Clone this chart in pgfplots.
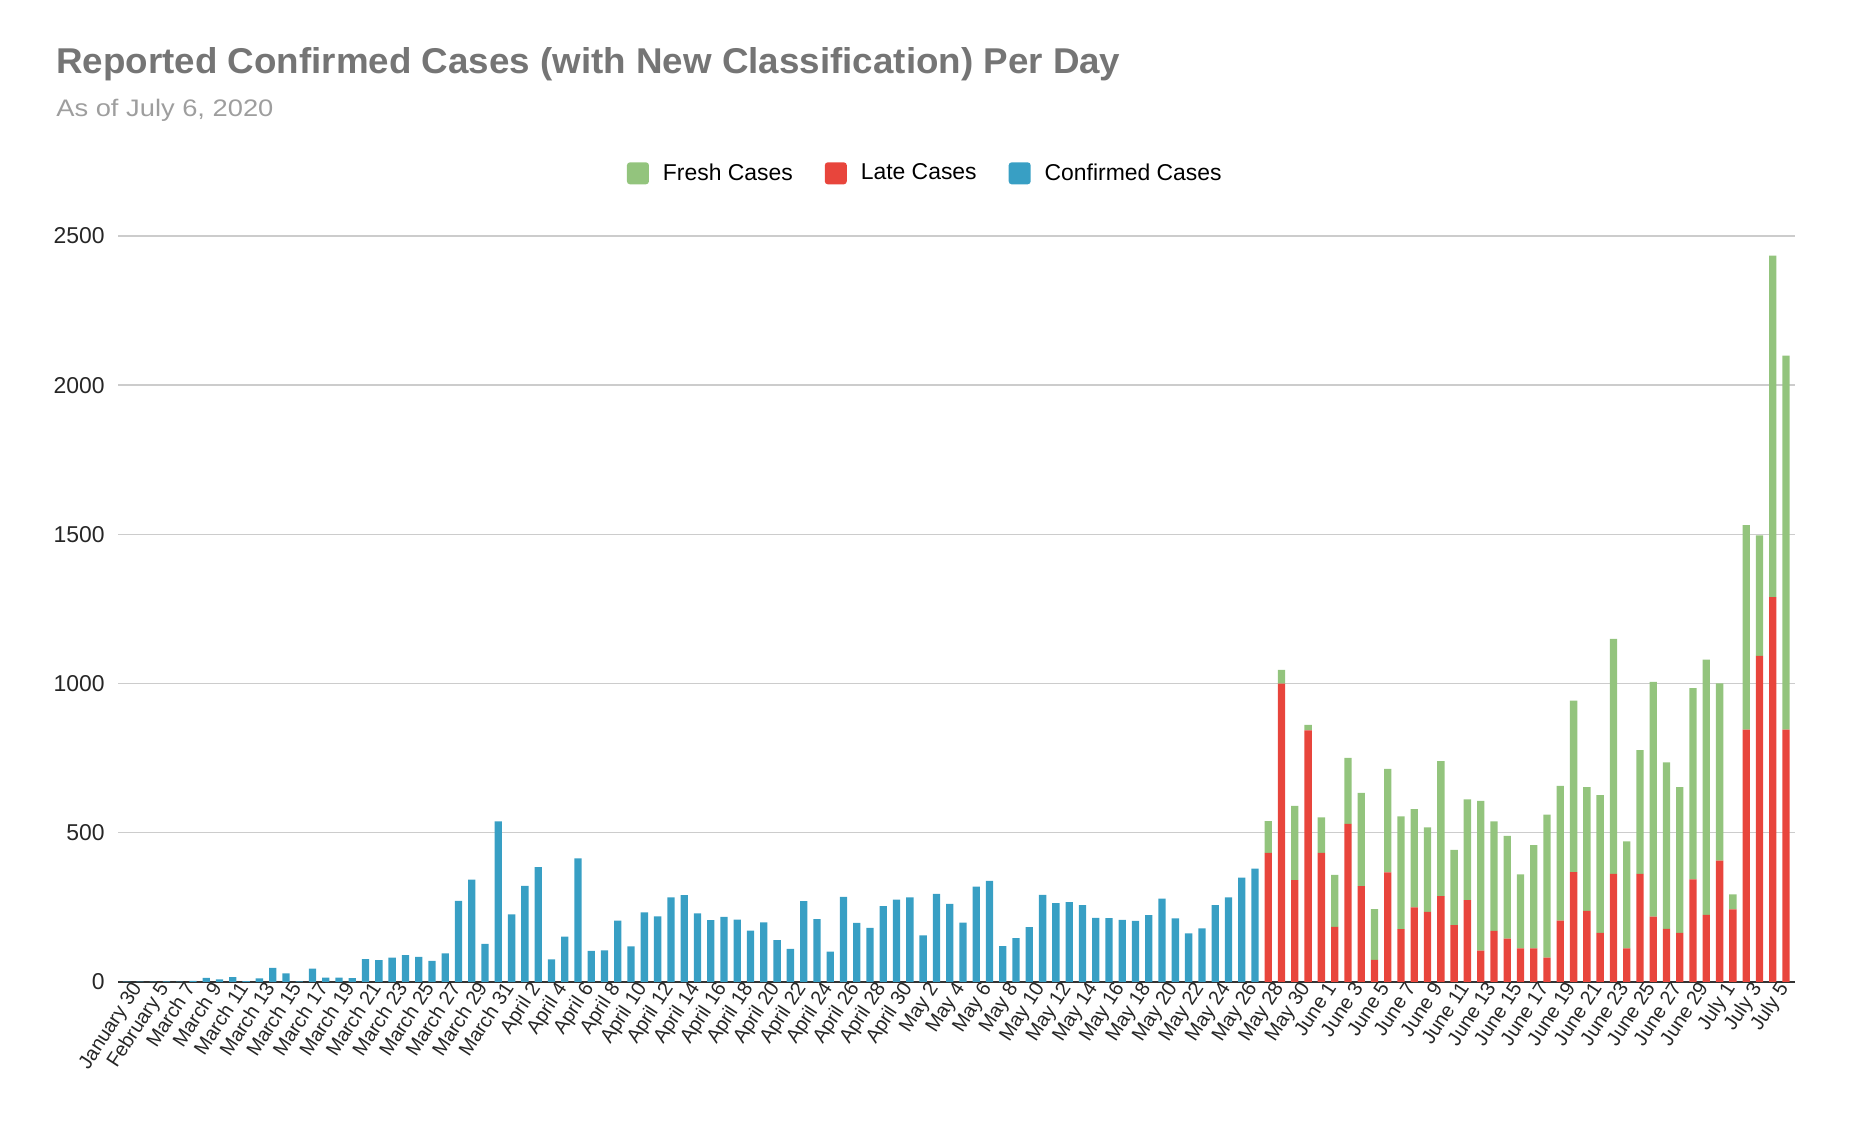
\documentclass[border=0pt]{standalone}
\usepackage{pgfplots}
\pgfplotsset{compat=1.18}
\usepackage{pgfplotstable}
\usepackage{fontspec}
\setmainfont{Liberation Sans}
\definecolor{cblue}{HTML}{389FC4}
\definecolor{cred}{HTML}{E8453C}
\definecolor{cgreen}{HTML}{93C47D}
\definecolor{ctitle}{HTML}{757575}
\definecolor{csub}{HTML}{9E9E9E}
\pgfplotstableread{
x conf late fresh
0 1 0 0
1 1 0 0
2 1 0 0
3 2 0 0
4 1 0 0
5 4 0 0
6 14 0 0
7 9 0 0
8 16 0 0
9 3 0 0
10 12 0 0
11 47 0 0
12 29 0 0
13 2 0 0
14 45 0 0
15 15 0 0
16 15 0 0
17 13 0 0
18 77 0 0
19 73 0 0
20 82 0 0
21 90 0 0
22 84 0 0
23 71 0 0
24 96 0 0
25 272 0 0
26 343 0 0
27 128 0 0
28 538 0 0
29 227 0 0
30 322 0 0
31 385 0 0
32 76 0 0
33 152 0 0
34 414 0 0
35 104 0 0
36 106 0 0
37 206 0 0
38 119 0 0
39 233 0 0
40 220 0 0
41 284 0 0
42 291 0 0
43 230 0 0
44 207 0 0
45 218 0 0
46 209 0 0
47 172 0 0
48 200 0 0
49 140 0 0
50 111 0 0
51 271 0 0
52 211 0 0
53 102 0 0
54 285 0 0
55 198 0 0
56 181 0 0
57 254 0 0
58 276 0 0
59 284 0 0
60 156 0 0
61 295 0 0
62 262 0 0
63 199 0 0
64 320 0 0
65 339 0 0
66 120 0 0
67 147 0 0
68 184 0 0
69 292 0 0
70 264 0 0
71 268 0 0
72 258 0 0
73 215 0 0
74 214 0 0
75 208 0 0
76 205 0 0
77 224 0 0
78 279 0 0
79 213 0 0
80 163 0 0
81 180 0 0
82 258 0 0
83 284 0 0
84 350 0 0
85 380 0 0
86 0 433 106
87 0 1000 46
88 0 341 249
89 0 843 19
90 0 433 119
91 0 185 174
92 0 530 221
93 0 321 313
94 0 74 170
95 0 367 347
96 0 177 378
97 0 250 329
98 0 235 283
99 0 288 452
100 0 191 252
101 0 274 338
102 0 105 502
103 0 171 367
104 0 145 345
105 0 113 248
106 0 113 346
107 0 82 479
108 0 206 451
109 0 368 575
110 0 238 415
111 0 165 461
112 0 362 788
113 0 113 358
114 0 362 415
115 0 219 787
116 0 178 558
117 0 165 488
118 0 344 641
119 0 225 855
120 0 407 594
121 0 243 51
122 0 846 685
123 0 1093 404
124 0 1290 1144
125 0 846 1253
}\datatable
\begin{document}
\begin{tikzpicture}
\begin{axis}[
  at={(59bp,75bp)}, anchor=south west,
  width=838.5bp, height=373bp, scale only axis,
  ybar stacked, bar width=0.55,
  xmin=-0.65, xmax=125.68,
  ymin=0, ymax=2500,
  ytick={0,500,1000,1500,2000,2500},
  xtick={0,2,...,124},
  xticklabels={January 30,February 5,March 7,March 9,March 11,March 13,March 15,March 17,March 19,March 21,March 23,March 25,March 27,March 29,March 31,April 2,April 4,April 6,April 8,April 10,April 12,April 14,April 16,April 18,April 20,April 22,April 24,April 26,April 28,April 30,May 2,May 4,May 6,May 8,May 10,May 12,May 14,May 16,May 18,May 20,May 22,May 24,May 26,May 28,May 30,June 1,June 3,June 5,June 7,June 9,June 11,June 13,June 15,June 17,June 19,June 21,June 23,June 25,June 27,June 29,July 1,July 3,July 5},
  major tick length=0pt,
  ymajorgrids, grid style={color=black!20, line width=0.7bp},
  separate axis lines,
  axis x line*=bottom, axis y line*=left,
  y axis line style={draw=none},
  x axis line style={draw=black!80, line width=1bp, -},
  /pgf/number format/assume math mode=true,
  /pgf/number format/1000 sep={},
  yticklabel style={font=\fontsize{11.5}{13}\selectfont, text=black!85, anchor=east, inner sep=0pt, xshift=-6.5bp},
  xticklabel style={font=\fontsize{10}{12}\selectfont, text=black!85, rotate=57, anchor=north east, inner sep=1pt, xshift=3bp},
  legend style={at={(0.482,1.084)}, anchor=center, draw=none, fill=none, legend columns=3,
    font=\fontsize{11.5}{13}\selectfont,
    /tikz/every odd column/.append style={column sep=5bp},
    /tikz/every even column/.append style={column sep=14bp}},
  legend cell align=left,
  reverse legend,
  legend image code/.code={\fill[#1, rounded corners=1.5bp] (0bp,-5.5bp) rectangle (11bp,5.5bp);},
]
\addplot[fill=cblue, draw=none] table[x=x, y=conf] {\datatable};
\addlegendentry{Confirmed Cases}
\addplot[fill=cred, draw=none] table[x=x, y=late] {\datatable};
\addlegendentry{Late Cases}
\addplot[fill=cgreen, draw=none] table[x=x, y=fresh] {\datatable};
\addlegendentry{Fresh Cases}
\end{axis}
\node[anchor=base west, inner sep=0pt, text=ctitle, font=\bfseries\fontsize{18}{21}\selectfont] at (28bp,529bp) {\resizebox{532bp}{\height}{Reported Confirmed Cases (with New Classification) Per Day}};
\node[anchor=base west, inner sep=0pt, text=csub, font=\fontsize{12}{14}\selectfont] at (28bp,507.5bp) {\resizebox{108.5bp}{\height}{As of July 6, 2020}};
\pgfresetboundingbox
\useasboundingbox (0,0) rectangle (935bp,566bp);
\end{tikzpicture}
\end{document}
